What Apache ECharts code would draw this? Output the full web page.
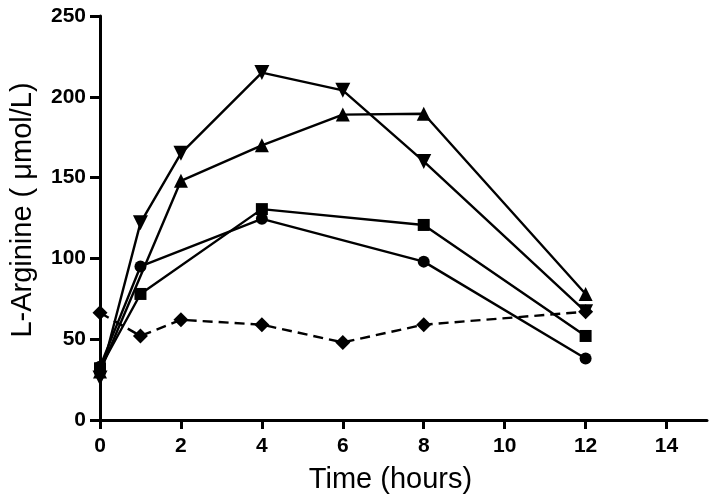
<!DOCTYPE html>
<html>
<head>
<meta charset="utf-8">
<script src="https://cdn.jsdelivr.net/npm/echarts@6/dist/echarts.min.js"></script>
<style>
  html, body { margin: 0; padding: 0; background: #fff; }
  #chart { width: 714px; height: 502px; }
</style>
</head>
<body>
<div id="chart"></div>
<script>
// 时间点 (hours)
var times = [0, 1, 2, 4, 6, 8, 12];
// 各组数值 (μmol/L)，null = 该时间点无数据
var downTri = [26, 122, 165, 215, 204, 160, 67];
var upTri = [30, null, 148, 170, 189, 189.5, 78];
var squares = [32, 78, null, 130.5, null, 120.7, 52];
var circles = [33, 95, null, 124.5, null, 98, 38];
var diamonds = [66.4, 52, 62, 59, 48, 59, 67];
var xTicks = [0, 2, 4, 6, 8, 10, 12, 14];
var yTicks = [0, 50, 100, 150, 200, 250];

var font = 'Liberation Sans, Arial, sans-serif';

function pairs(vals) {
    var out = [];
    for (var i = 0; i < times.length; i++) {
        if (vals[i] !== null) out.push([times[i], vals[i]]);
    }
    return out;
}

function line(name, vals, symbol, size, rotate, dashed) {
    return {
        name: name,
        type: 'line',
        data: pairs(vals),
        symbol: symbol,
        symbolSize: size,
        symbolRotate: rotate,
        showAllSymbol: true,
        clip: false,
        itemStyle: { color: '#000' },
        lineStyle: { color: '#000', width: 2.4, type: dashed ? [10, 6] : 'solid' },
        z: 3
    };
}

var myChart = echarts.init(document.getElementById('chart'));

const option = {
    backgroundColor: '#fff',
    animation: false,
    grid: { left: 99, top: 16, right: 7, bottom: 82 },
    xAxis: {
        type: 'value',
        min: 0,
        max: 15,
        interval: 2,
        name: 'Time (hours)',
        nameLocation: 'middle',
        nameGap: 45,
        nameTextStyle: { fontFamily: font, fontSize: 29, color: '#000', padding: [0, 26, 0, 0] },
        splitLine: { show: false },
        axisLine: { onZero: false, lineStyle: { color: '#000', width: 3 } },
        axisTick: { customValues: xTicks, length: 9, lineStyle: { color: '#000', width: 3 } },
        axisLabel: { customValues: xTicks, margin: 16, fontFamily: font, fontSize: 21, fontWeight: 'bold', color: '#000' }
    },
    yAxis: {
        type: 'value',
        min: 0,
        max: 250,
        interval: 50,
        name: 'L-Arginine ( μmol/L)',
        nameLocation: 'middle',
        nameGap: 63,
        nameTextStyle: { fontFamily: font, fontSize: 29, color: '#000', padding: [0, 0, 0, 16] },
        splitLine: { show: false },
        axisLine: { show: true, lineStyle: { color: '#000', width: 3 } },
        axisTick: { show: true, length: 10, lineStyle: { color: '#000', width: 3 } },
        axisLabel: { margin: 14, fontFamily: font, fontSize: 21, fontWeight: 'bold', color: '#000',
            formatter: function (v) { return yTicks.indexOf(v) >= 0 ? String(v) : ''; } }
    },
    series: [
        line('down', downTri, 'triangle', 15, 180, false),
        line('up', upTri, 'triangle', 14, 0, false),
        line('square', squares, 'rect', 12, 0, false),
        line('circle', circles, 'circle', 12, 0, false),
        line('diamond', diamonds, 'diamond', 15, 0, true)
    ]
};

myChart.setOption(option);
</script>
</body>
</html>
